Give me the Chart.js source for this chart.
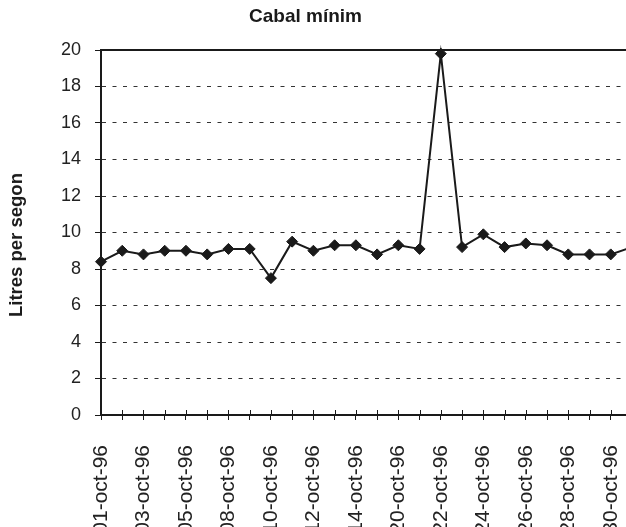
<!DOCTYPE html>
<html>
<head>
<meta charset="utf-8">
<script src="https://cdn.jsdelivr.net/npm/chart.js@4/dist/chart.umd.min.js"></script>
<style>
  html, body { margin: 0; padding: 0; background: #fff; overflow: hidden; }
  #wrap { position: relative; width: 660px; height: 560px; }
  .lbl { position: absolute; font-family: "Liberation Sans", Arial, sans-serif; font-weight: bold; color: #1a1a1a; white-space: nowrap; }
  #title { left: 0; top: 4px; width: 611px; text-align: center; font-size: 19px; line-height: 23px; }
  #ytitle { left: 16px; top: 245px; font-size: 18.5px; line-height: 22px; transform: translate(-50%, -50%) rotate(-90deg); }
  canvas { position: absolute; left: 0; top: 0; }
</style>
</head>
<body>
<div id="wrap">
  <canvas id="chart" width="660" height="560"></canvas>
  <div id="title" class="lbl">Cabal mínim</div>
  <div id="ytitle" class="lbl">Litres per segon</div>
</div>
<script>
// Daily readings, October 1996
const dates = [
  '01-oct-96', '02-oct-96', '03-oct-96', '04-oct-96', '05-oct-96', '07-oct-96',
  '08-oct-96', '09-oct-96', '10-oct-96', '11-oct-96', '12-oct-96', '13-oct-96',
  '14-oct-96', '15-oct-96', '20-oct-96', '21-oct-96', '22-oct-96', '23-oct-96',
  '24-oct-96', '25-oct-96', '26-oct-96', '27-oct-96', '28-oct-96', '29-oct-96',
  '30-oct-96', '31-oct-96'
];
// Minimum flow, litres per second
const minFlow = [
  8.4, 9.0, 8.8, 9.0, 9.0, 8.8,
  9.1, 9.1, 7.5, 9.5, 9.0, 9.3,
  9.3, 8.8, 9.3, 9.1, 19.8, 9.2,
  9.9, 9.2, 9.4, 9.3, 8.8, 8.8,
  8.8, 9.2
];
const yTicks = [0, 2, 4, 6, 8, 10, 12, 14, 16, 18, 20];

const INK = '#1a1a1a';

// Frame line along the top of the plot and tick marks crossing the x axis
const frame = {
  id: 'frame',
  beforeDatasetsDraw(chart) {
    const { ctx, chartArea: a, scales: { x } } = chart;
    ctx.save();
    ctx.strokeStyle = INK;
    ctx.lineWidth = 2;
    ctx.beginPath();
    ctx.moveTo(a.left - 1, a.top);
    ctx.lineTo(a.right + 40, a.top);
    ctx.stroke();
    ctx.lineWidth = 1;
    ctx.beginPath();
    x.ticks.forEach((t, i) => {
      const px = Math.round(x.getPixelForTick(i)) + 0.5;
      ctx.moveTo(px, a.bottom - 5);
      ctx.lineTo(px, a.bottom);
    });
    ctx.stroke();
    ctx.restore();
  }
};

new Chart(document.getElementById('chart'), {
  type: 'line',
  data: {
    labels: dates,
    datasets: [{
      data: minFlow,
      borderColor: INK,
      backgroundColor: INK,
      borderWidth: 2,
      pointStyle: 'rectRot',
      pointRadius: 5.5,
      pointBackgroundColor: INK,
      pointBorderColor: INK,
      pointBorderWidth: 1,
      tension: 0,
      clip: false
    }]
  },
  options: {
    responsive: false,
    animation: false,
    events: [],
    layout: { padding: { left: 4, top: 50, right: 28, bottom: 0 } },
    plugins: {
      legend: { display: false },
      title: { display: false },
      tooltip: { enabled: false }
    },
    scales: {
      x: {
        offset: false,
        grid: {
          display: true,
          drawOnChartArea: false,
          drawTicks: true,
          tickLength: 5,
          tickColor: INK,
          lineWidth: 1
        },
        border: { display: true, color: INK, width: 2 },
        ticks: {
          autoSkip: false,
          minRotation: 90,
          maxRotation: 90,
          padding: 25,
          color: '#222',
          font: { family: '"Liberation Sans", Arial, sans-serif', size: 21 },
          callback: (v, i) => (i % 2 === 0 ? dates[i] : '')
        },
        afterFit: (s) => {
          s.height = 560 - 415;
          s.paddingLeft = 0;
          s.paddingRight = 0;
        }
      },
      y: {
        min: 0,
        max: 20,
        afterBuildTicks: (s) => { s.ticks = yTicks.map(v => ({ value: v })); },
        grid: {
          color: (c) => (c.tick && (c.tick.value === 0 || c.tick.value === 20) ? 'rgba(0,0,0,0)' : '#333'),
          lineWidth: 1,
          tickColor: INK,
          tickLength: 6,
          tickBorderDash: [],
          drawTicks: true
        },
        border: { display: true, color: INK, width: 2, dash: [4, 6.5] },
        ticks: {
          padding: 14,
          color: '#222',
          font: { family: '"Liberation Sans", Arial, sans-serif', size: 18 }
        },
        title: { display: false },
        afterFit: (s) => { s.width = 101 - 4; }
      }
    }
  },
  plugins: [frame]
});
</script>
</body>
</html>
